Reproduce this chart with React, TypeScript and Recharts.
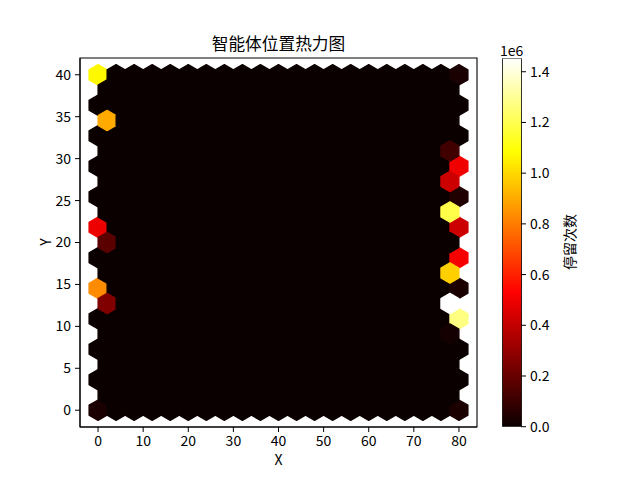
import React from 'react';
import { ScatterChart, Scatter, XAxis, YAxis, ReferenceArea, BarChart, Bar } from 'recharts';

const FONT = '"Noto Sans CJK SC", "DejaVu Sans", sans-serif';

// ---- hexbin grid definition (matplotlib gridsize = 20) ----
const X_MIN = 0;
const X_MAX = 80;
const Y_MIN = 0;
const Y_MAX = 40;
const GRID_NX = 20;
const GRID_NY = 11;

// ---- non-zero cells (all other cells are 0) ----
const hotX = [0, 2, 0, 2, 0, 2, 0, 80, 78, 80, 78, 80, 78, 80, 80, 78, 80, 78, 80, 78, 80];
const hotY = [40, 34.5, 21.8, 20, 14.5, 12.7, 0, 40, 30.9, 29.1, 27.3, 25.5, 23.6, 21.8, 18.2, 16.4, 14.5, 12.7, 10.9, 9.1, 0];
const hotCount = [
  1070000, 900000, 490000, 172000, 835000, 254000, 33000,
  33000, 116000, 500000, 420000, 46000, 1190000, 420000, 510000,
  980000, 35000, 1453000, 1270000, 20000, 35000,
];

// ---- axis ticks ----
const xTicks = [0, 10, 20, 30, 40, 50, 60, 70, 80];
const yTicks = [0, 5, 10, 15, 20, 25, 30, 35, 40];
const cbTicks = [0, 200000, 400000, 600000, 800000, 1000000, 1200000, 1400000];

const X_DOMAIN: [number, number] = [-4, 84];
const Y_DOMAIN: [number, number] = [-2, 42];

// plot area geometry (px)
const PLOT_W = 397;
const PLOT_H = 369;
const pxPerX = PLOT_W / (X_DOMAIN[1] - X_DOMAIN[0]);
const pxPerY = PLOT_H / (Y_DOMAIN[1] - Y_DOMAIN[0]);

const SX = (X_MAX - X_MIN) / GRID_NX;
const SY = (Y_MAX - Y_MIN) / GRID_NY;

type Cell = { x: number; y: number; count: number };

function buildCells(): Cell[] {
  const cells: Cell[] = [];
  for (let i = 0; i <= GRID_NX; i++) {
    for (let j = 0; j <= GRID_NY; j++) {
      cells.push({ x: X_MIN + i * SX, y: Y_MIN + j * SY, count: 0 });
    }
  }
  for (let i = 0; i < GRID_NX; i++) {
    for (let j = 0; j < GRID_NY; j++) {
      cells.push({ x: X_MIN + (i + 0.5) * SX, y: Y_MIN + (j + 0.5) * SY, count: 0 });
    }
  }
  hotX.forEach((hx, k) => {
    let best = 0;
    let bestD = Infinity;
    cells.forEach((c, idx) => {
      const d = ((c.x - hx) / SX) ** 2 + ((c.y - hotY[k]) / SY) ** 2;
      if (d < bestD) {
        bestD = d;
        best = idx;
      }
    });
    cells[best].count = hotCount[k];
  });
  return cells;
}

const cells = buildCells();
const VMAX = Math.max(...cells.map((c) => c.count));
const VMIN = 0;

// matplotlib "hot" colormap
function hot(t: number): string {
  const v = Math.max(0, Math.min(1, t));
  const r = v < 0.365079 ? 0.0416 + (v / 0.365079) * (1 - 0.0416) : 1;
  const g = v < 0.365079 ? 0 : v < 0.746032 ? (v - 0.365079) / (0.746032 - 0.365079) : 1;
  const b = v < 0.746032 ? 0 : (v - 0.746032) / (1 - 0.746032);
  const h = (n: number) => Math.round(n * 255).toString(16).padStart(2, '0');
  return `#${h(r)}${h(g)}${h(b)}`;
}

function Hex(props: any) {
  const { cx, cy, payload } = props;
  if (cx == null || cy == null) return null;
  const hw = 0.5 * SX * pxPerX;
  const hv = (SY / 3) * pxPerY;
  const pts = [
    [hw, -hv / 2],
    [hw, hv / 2],
    [0, hv],
    [-hw, hv / 2],
    [-hw, -hv / 2],
    [0, -hv],
  ]
    .map(([dx, dy]) => `${cx + dx},${cy + dy}`)
    .join(' ');
  const color = hot((payload.count - VMIN) / (VMAX - VMIN));
  return <polygon points={pts} fill={color} stroke={color} strokeWidth={1.2} strokeLinejoin="round" />;
}

const tickStyle = { fontSize: 14, fill: '#000', fontFamily: FONT };

const abs = (extra: React.CSSProperties): React.CSSProperties => ({
  position: 'absolute',
  fontFamily: FONT,
  color: '#000',
  whiteSpace: 'nowrap',
  lineHeight: 1,
  ...extra,
});

export default function App() {
  const stops = [0, 0.365079, 0.746032, 1];
  return (
    <div style={{ position: 'fixed', left: 0, top: 0, width: 640, height: 480, background: '#fff' }}>
      <svg width={0} height={0} style={{ position: 'absolute' }}>
        <defs>
          <linearGradient id="hotGrad" x1="0" y1="1" x2="0" y2="0">
            {stops.map((s) => (
              <stop key={s} offset={s} stopColor={hot(s)} />
            ))}
          </linearGradient>
        </defs>
      </svg>

      <div style={{ position: 'absolute', left: 0, top: 0 }}>
        <ScatterChart width={640} height={480} margin={{ top: 58, right: 163, bottom: 0, left: 0 }}>
          <XAxis
            type="number"
            dataKey="x"
            domain={X_DOMAIN}
            ticks={xTicks}
            allowDataOverflow
            height={53}
            tick={tickStyle}
            tickSize={5}
            tickMargin={4}
            stroke="#000"
            tickLine={{ stroke: '#000' }}
            axisLine={{ stroke: '#000' }}
          />
          <YAxis
            type="number"
            dataKey="y"
            domain={Y_DOMAIN}
            ticks={yTicks}
            allowDataOverflow
            width={80}
            tick={tickStyle}
            tickSize={5}
            tickMargin={4}
            stroke="#000"
            tickLine={{ stroke: '#000' }}
            axisLine={{ stroke: '#000' }}
          />
          <Scatter data={cells} shape={<Hex />} isAnimationActive={false} />
          <ReferenceArea
            x1={X_DOMAIN[0]}
            x2={X_DOMAIN[1]}
            y1={Y_DOMAIN[0]}
            y2={Y_DOMAIN[1]}
            fill="none"
            fillOpacity={0}
            stroke="#000"
            strokeWidth={1.1}
          />
        </ScatterChart>
      </div>

      <div style={{ position: 'absolute', left: 490, top: 0 }}>
        <BarChart
          width={100}
          height={480}
          data={[{ name: 'cb', v: VMAX }]}
          margin={{ top: 58.3, right: 0, bottom: 53.3, left: 12.5 }}
          barCategoryGap={0}
        >
          <XAxis dataKey="name" hide />
          <YAxis
            orientation="right"
            type="number"
            domain={[VMIN, VMAX]}
            ticks={cbTicks}
            allowDataOverflow
            width={69}
            tick={tickStyle}
            tickSize={5}
            tickMargin={4}
            axisLine={false}
            tickLine={{ stroke: '#000' }}
            tickFormatter={(v: number) => (v / 1e6).toFixed(1)}
          />
          <Bar dataKey="v" fill="url(#hotGrad)" stroke="#000" strokeWidth={0.8} isAnimationActive={false} />
        </BarChart>
      </div>

      <div style={abs({ left: 278.5, top: 43, fontSize: 16.7, transform: 'translate(-50%, -50%)' })}>智能体位置热力图</div>
      <div style={abs({ left: 278.5, top: 459, fontSize: 14, transform: 'translate(-50%, -50%)' })}>X</div>
      <div style={abs({ left: 45, top: 242, fontSize: 14, transform: 'translate(-50%, -50%) rotate(-90deg)' })}>Y</div>
      <div style={abs({ left: 500, top: 50, fontSize: 14, transform: 'translate(0, -50%)' })}>1e6</div>
      <div style={abs({ left: 569, top: 242, fontSize: 14, transform: 'translate(-50%, -50%) rotate(-90deg)' })}>停留次数</div>
    </div>
  );
}
